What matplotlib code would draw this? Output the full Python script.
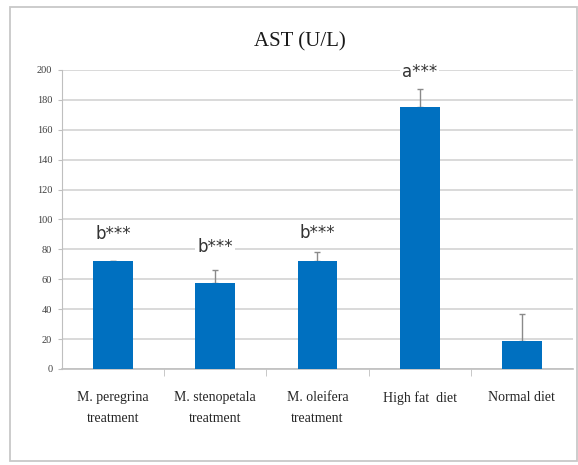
import matplotlib.pyplot as plt
import numpy as np
from matplotlib.patches import Rectangle

# data
categories = ["M. peregrina\ntreatment", "M. stenopetala\ntreatment",
              "M. oleifera\ntreatment", "High fat  diet", "Normal diet"]
ast_values = [72, 57.5, 72.5, 175, 18.7]
ast_errors = [0.5, 8.5, 5.5, 12, 18]
sig_labels = ["b***", "b***", "b***", "a***", ""]
sig_heights = [90, 81.5, 91, 198.6, None]
y_ticks = list(range(0, 201, 20))

bar_color = "#0070C0"
grid_color = "#d9d9d9"

fig = plt.figure(figsize=(5.78, 4.65), dpi=100)

# outer chart border
fig.patches.append(Rectangle((0.0173, 0.0086), 0.981, 0.976, transform=fig.transFigure,
                             fill=False, edgecolor="#c8c8c8", linewidth=1.3))

ax = fig.add_axes([0.1073, 0.2065, 0.884, 0.643])
x = np.arange(len(categories))

ax.bar(x, ast_values, width=0.39, color=bar_color, zorder=3)
ax.errorbar(x, ast_values, yerr=[np.zeros(len(x)), ast_errors], fmt="none",
            ecolor="#8a8a8a", elinewidth=1, capsize=2.5, capthick=1, zorder=2)

for xi, lab, h in zip(x, sig_labels, sig_heights):
    if lab:
        ax.text(xi, h, lab, ha="center", va="center", fontsize=12,
                family="DejaVu Sans", color="#333333", zorder=4,
                bbox=dict(facecolor="white", edgecolor="none", pad=1.5))

ax.set_ylim(0, 200)
ax.set_xlim(-0.5, len(categories) - 0.5)
ax.set_yticks(y_ticks)
ax.set_yticklabels([str(t) for t in y_ticks], family="Liberation Serif",
                   fontsize=7.5, color="#404040")
ax.set_xticks(x)
ax.set_xticklabels(categories, family="Liberation Serif", fontsize=10,
                   color="#262626", linespacing=1.75)
ax.tick_params(axis="x", length=0, pad=16)
ax.tick_params(axis="y", length=3, color="#bfbfbf", pad=4)
ax.set_xticks(np.arange(0.5, len(categories) - 0.5), minor=True)
ax.tick_params(axis="x", which="minor", length=5, color="#bfbfbf")

ax.yaxis.grid(True, color=grid_color, linewidth=1.4, zorder=0)
ax.set_axisbelow(True)
for side in ["top", "right"]:
    ax.spines[side].set_visible(False)
ax.spines["left"].set_color("#bfbfbf")
ax.spines["bottom"].set_color("#bfbfbf")
ax.spines["bottom"].set_linewidth(1.2)

fig.text(0.519, 0.91, "AST (U/L)", ha="center", va="center",
         family="Liberation Serif", fontsize=15, color="#1a1a1a")

fig.savefig("out.png", dpi=100)
